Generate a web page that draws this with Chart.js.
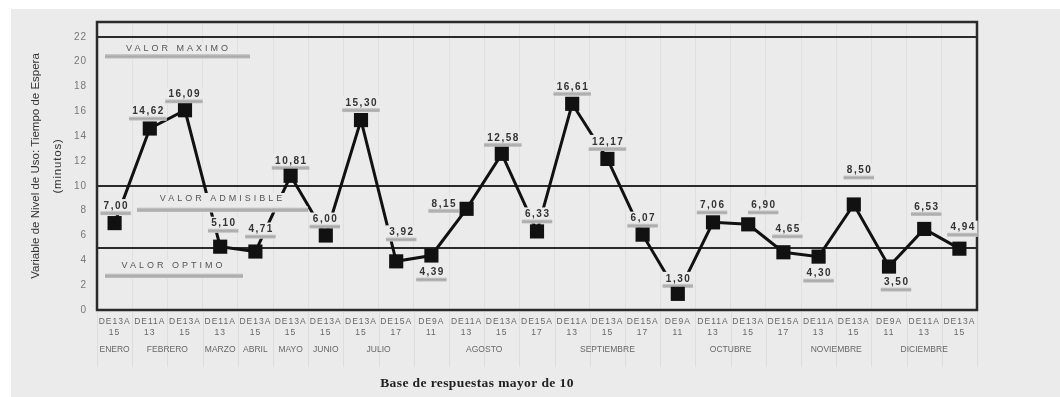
<!DOCTYPE html>
<html>
<head>
<meta charset="utf-8">
<script src="https://cdn.jsdelivr.net/npm/chart.js@4/dist/chart.umd.min.js"></script>
<style>
  html, body { margin: 0; padding: 0; background: #fff; }
  #wrap { position: relative; width: 1060px; height: 397px; }
</style>
</head>
<body>
<div id="wrap"><canvas id="espera"></canvas></div>
<script>
// franjas horarias (eje x), dos líneas por etiqueta
const slots = [
  ['DE13A', '15'],
  ['DE11A', '13'], ['DE13A', '15'],
  ['DE11A', '13'],
  ['DE13A', '15'],
  ['DE13A', '15'],
  ['DE13A', '15'],
  ['DE13A', '15'], ['DE15A', '17'],
  ['DE9A', '11'], ['DE11A', '13'], ['DE13A', '15'], ['DE15A', '17'],
  ['DE11A', '13'], ['DE13A', '15'], ['DE15A', '17'],
  ['DE9A', '11'], ['DE11A', '13'], ['DE13A', '15'], ['DE15A', '17'],
  ['DE11A', '13'], ['DE13A', '15'],
  ['DE9A', '11'], ['DE11A', '13'], ['DE13A', '15']
];
const tiempos = [
  7.00, 14.62, 16.09, 5.10, 4.71, 10.81, 6.00, 15.30, 3.92,
  4.39, 8.15, 12.58, 6.33, 16.61, 12.17, 6.07, 1.30, 7.06,
  6.90, 4.65, 4.30, 8.50, 3.50, 6.53, 4.94
];
const meses = ['ENERO', 'FEBRERO', 'MARZO', 'ABRIL', 'MAYO', 'JUNIO', 'JULIO',
  'AGOSTO', 'SEPTIEMBRE', 'OCTUBRE', 'NOVIEMBRE', 'DICIEMBRE'];
const slotsPorMes = [1, 2, 1, 1, 1, 1, 2, 4, 3, 4, 2, 3];
const limites = [22, 10, 5];
const nombresLimites = ['VALOR MAXIMO', 'VALOR ADMISIBLE', 'VALOR OPTIMO'];

// desplazamiento de cada etiqueta de valor respecto a su punto (px)
const offsetEtiquetas = [
  [1, -17], [-2, -17], [-1, -16], [3, -23], [5, -22], [0, -15], [-1, -16],
  [0, -17], [5, -29], [0, 17], [-23, -5], [1, -16], [0, -17], [0, -17],
  [0, -17], [0, -16], [0, -15], [-1, -17], [15, -19], [4, -23], [0, 17],
  [5, -34], [7, 16], [2, -22], [3, -21]
];
// rótulos de los límites: x relativo al área, y relativo a la línea
const estiloLimites = [
  { tx: 80,  ty: 11.5, bx0: 8,  bx1: 153, by: 17 },
  { tx: 124, ty: 13,   bx0: 40, bx1: 211, by: 21.5 },
  { tx: 75,  ty: 18,   bx0: 8,  bx1: 146, by: 25.5 }
];

const FONDO = '#ebebeb';
const fmt = v => v.toFixed(2).replace('.', ',');

function barraGris(ctx, x0, y0, w, h) {
  const g = ctx.createLinearGradient(0, y0, 0, y0 + h);
  g.addColorStop(0, '#cfcfcf');
  g.addColorStop(0.5, '#a9a9a9');
  g.addColorStop(1, '#bdbdbd');
  ctx.fillStyle = g;
  ctx.fillRect(x0, y0, w, h);
}

// rótulos VALOR ... con fondo opaco, tapan el trazo que pasa por debajo
function dibujarRotulosLimites(chart) {
  const { ctx, chartArea: a, scales: { y } } = chart;
  ctx.save();
  ctx.font = '9px "Liberation Sans", Arial, sans-serif';
  ctx.letterSpacing = '3px';
  ctx.textAlign = 'center';
  ctx.textBaseline = 'middle';
  limites.forEach((v, i) => {
    const py = Math.round(y.getPixelForValue(v));
    const s = estiloLimites[i];
    const tw = ctx.measureText(nombresLimites[i]).width;
    ctx.fillStyle = FONDO;
    ctx.fillRect(a.left + s.tx - tw / 2 - 2, py + s.ty - 6, tw + 4, s.by - s.ty + 6);
    ctx.fillRect(a.left + s.bx0, py + s.by - 1, s.bx1 - s.bx0, 6);
    barraGris(ctx, a.left + s.bx0, py + s.by, s.bx1 - s.bx0, 4.5);
    ctx.fillStyle = '#555';
    ctx.fillText(nombresLimites[i], a.left + s.tx + 1.5, py + s.ty);
  });
  ctx.restore();
}

function dibujarEtiquetas(chart) {
  const ctx = chart.ctx;
  const pts = chart.getDatasetMeta(0).data;
  ctx.save();
  ctx.font = 'bold 10px "Liberation Sans", Arial, sans-serif';
  ctx.letterSpacing = '1.5px';
  ctx.textAlign = 'center';
  ctx.textBaseline = 'middle';
  pts.forEach((p, i) => {
    const [dx, dy] = offsetEtiquetas[i];
    const txt = fmt(tiempos[i]);
    const w = ctx.measureText(txt).width + 5;
    const cx = p.x + dx, cy = p.y + dy;
    // fondo opaco: la línea queda por detrás del rótulo
    ctx.fillStyle = FONDO;
    ctx.fillRect(cx - w / 2, cy - 7, w, 16);
    barraGris(ctx, cx - w / 2, cy + 5, w, 4);
    ctx.fillStyle = '#333';
    ctx.fillText(txt, cx + 0.75, cy);
  });
  ctx.restore();
}

const decor = {
  id: 'decor',
  beforeDraw(chart) {
    const ctx = chart.ctx;
    ctx.save();
    ctx.fillStyle = FONDO;
    ctx.fillRect(11, 9, chart.width - 11, chart.height - 9);
    ctx.restore();
    ctx.letterSpacing = '1px';
  },
  beforeDatasetsDraw(chart) {
    const { ctx, chartArea: a, scales: { y } } = chart;
    ctx.save();
    ctx.strokeStyle = '#2a2a2a';
    ctx.lineWidth = 2;
    limites.forEach(v => {
      const py = Math.round(y.getPixelForValue(v));
      ctx.beginPath();
      ctx.moveTo(a.left, py);
      ctx.lineTo(a.right, py);
      ctx.stroke();
    });
    ctx.letterSpacing = '0px';
    ctx.lineWidth = 2.5;
    ctx.strokeRect(a.left, a.top, a.right - a.left, a.bottom - a.top);
    ctx.restore();
  },
  // la línea (dataset 1) se dibuja primero; encima los rótulos y luego los marcadores
  afterDatasetDraw(chart, args) {
    if (args.index === 1) {
      dibujarRotulosLimites(chart);
      dibujarEtiquetas(chart);
    }
  },
  afterDraw(chart) {
    const { ctx, chartArea: a, scales: { x } } = chart;
    const paso = x.getPixelForValue(1) - x.getPixelForValue(0);
    ctx.save();
    // separadores bajo el eje
    ctx.strokeStyle = 'rgba(0,0,0,0.06)';
    ctx.lineWidth = 1;
    for (let i = 0; i <= slots.length; i++) {
      const px = Math.round(x.getPixelForValue(i) - paso / 2) + 0.5;
      ctx.beginPath();
      ctx.moveTo(px, a.bottom + 2);
      ctx.lineTo(px, a.bottom + 57);
      ctx.stroke();
    }
    // meses
    ctx.font = '8.5px "Liberation Sans", Arial, sans-serif';
    ctx.letterSpacing = '0px';
    ctx.fillStyle = '#666';
    ctx.textAlign = 'center';
    ctx.textBaseline = 'middle';
    let ini = 0;
    meses.forEach((m, i) => {
      const fin = ini + slotsPorMes[i] - 1;
      const cx = (x.getPixelForValue(ini) + x.getPixelForValue(fin)) / 2;
      ctx.fillText(m, cx, a.bottom + 40);
      ini = fin + 1;
    });
    // títulos de ejes
    ctx.fillStyle = '#222';
    ctx.font = 'bold 13.5px "Liberation Serif", "Times New Roman", serif';
    ctx.letterSpacing = '0.4px';
    ctx.fillText('Base de respuestas mayor de 10', 477, 384);

    ctx.save();
    ctx.translate(36, 166);
    ctx.rotate(-Math.PI / 2);
    ctx.font = '11.5px "Liberation Sans", Arial, sans-serif';
    ctx.letterSpacing = '0px';
    ctx.fillStyle = '#333';
    ctx.fillText('Variable de Nivel de Uso: Tiempo de Espera', 0, 0);
    ctx.letterSpacing = '0.8px';
    ctx.fillText('(minutos)', 0, 22);
    ctx.restore();
    ctx.restore();
  }
};

new Chart(document.getElementById('espera'), {
  type: 'line',
  data: {
    labels: slots,
    datasets: [
      {
        // marcadores cuadrados
        data: tiempos,
        showLine: false,
        pointStyle: 'rect',
        pointRadius: 10,
        pointBackgroundColor: '#111',
        pointBorderWidth: 0
      },
      {
        // trazo de la serie
        data: tiempos,
        borderColor: '#111',
        borderWidth: 3,
        tension: 0,
        pointRadius: 0
      }
    ]
  },
  options: {
    responsive: true,
    maintainAspectRatio: false,
    animation: false,
    layout: { padding: { left: 0, top: 22, right: 83, bottom: 0 } },
    plugins: { legend: { display: false }, tooltip: { enabled: false } },
    scales: {
      x: {
        type: 'category',
        offset: true,
        border: { display: false },
        grid: { color: 'rgba(0,0,0,0.045)', drawTicks: false, offset: true },
        ticks: {
          autoSkip: false, maxRotation: 0, padding: 6,
          color: '#666',
          font: { size: 8.5, family: '"Liberation Sans", Arial, sans-serif', lineHeight: 1.3 }
        },
        afterFit: s => { s.height = 87; }
      },
      y: {
        min: 0, max: 23.2,
        border: { display: false },
        grid: { display: false, drawTicks: false },
        ticks: {
          stepSize: 2, includeBounds: false, padding: 10,
          color: '#777',
          font: { size: 10, family: '"Liberation Sans", Arial, sans-serif' }
        },
        afterFit: s => { s.width = 97; }
      }
    }
  },
  plugins: [decor]
});
</script>
</body>
</html>
